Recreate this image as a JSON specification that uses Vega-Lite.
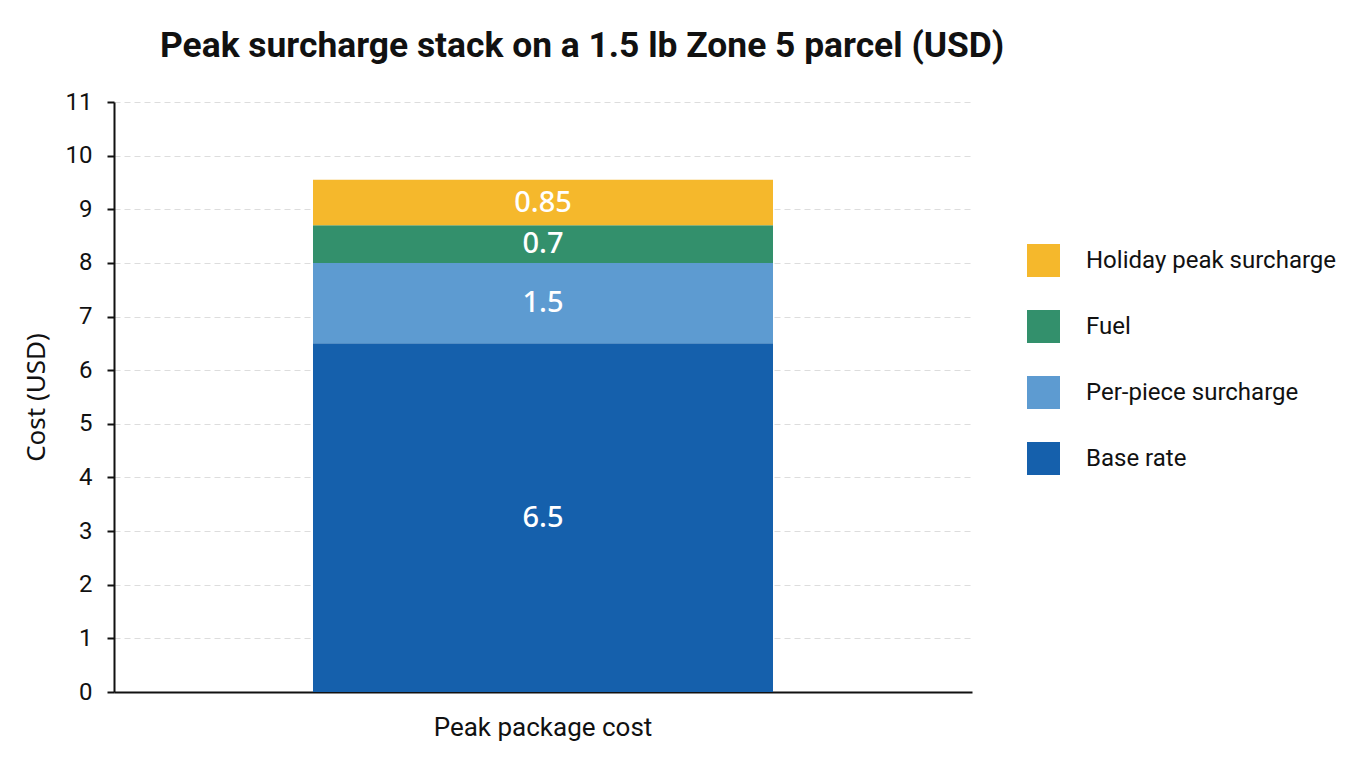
{
  "$schema": "https://vega.github.io/schema/vega-lite/v6.json",
  "width": 858,
  "height": 590,
  "autosize": {"type": "none"},
  "padding": {"left": 114, "top": 102, "right": 388, "bottom": 76},
  "background": "white",
  "title": {
    "text": "Peak surcharge stack on a 1.5 lb Zone 5 parcel (USD)",
    "anchor": "start",
    "frame": "group",
    "dx": 46,
    "offset": -2,
    "baseline": "alphabetic",
    "font": "Roboto",
    "fontSize": 35.4,
    "fontWeight": "bold",
    "color": "#111111"
  },
  "data": {
    "values": [
      {"item": "Peak package cost", "component": "Base rate", "cost": 6.5, "ord": 1},
      {"item": "Peak package cost", "component": "Per-piece surcharge", "cost": 1.5, "ord": 2},
      {"item": "Peak package cost", "component": "Fuel", "cost": 0.7, "ord": 3},
      {"item": "Peak package cost", "component": "Holiday peak surcharge", "cost": 0.85, "ord": 4}
    ]
  },
  "transform": [
    {"stack": "cost", "groupby": ["item"], "sort": [{"field": "ord", "order": "ascending"}], "as": ["y0", "y1"]},
    {"calculate": "(datum.y0 + datum.y1) / 2", "as": "mid"}
  ],
  "encoding": {
    "x": {
      "field": "item",
      "type": "nominal",
      "scale": {"paddingInner": 0, "paddingOuter": 0.4326},
      "axis": {
        "title": null,
        "labelAngle": 0,
        "ticks": false,
        "labelPadding": 22,
        "labelLimit": 500,
        "labelFont": "Roboto",
        "labelFontSize": 26,
        "labelColor": "#111111",
        "domainColor": "#111111",
        "domainWidth": 2,
        "grid": false
      }
    }
  },
  "layer": [
    {
      "mark": {"type": "bar"},
      "encoding": {
        "y": {
          "field": "y0",
          "type": "quantitative",
          "scale": {"domain": [0, 11], "nice": false},
          "axis": {
            "title": "Cost (USD)",
            "titleFont": "Noto Sans",
            "titleFontSize": 26,
            "titleFontWeight": "normal",
            "titleColor": "#111111",
            "titlePadding": 16,
            "values": [0,1,2,3,4,5,6,7,8,9,10,11],
            "labelFont": "Roboto",
            "labelFontSize": 24,
            "labelColor": "#111111",
            "labelPadding": 15,
            "tickColor": "#111111",
            "tickSize": 7,
            "tickWidth": 2,
            "domainColor": "#111111",
            "domainWidth": 2,
            "grid": true,
            "gridColor": "#dddddd",
            "gridDash": [6, 4],
            "gridWidth": 1
          }
        },
        "y2": {"field": "y1"},
        "color": {
          "field": "component",
          "type": "nominal",
          "scale": {
            "domain": ["Holiday peak surcharge", "Fuel", "Per-piece surcharge", "Base rate"],
            "range": ["#F5B82C", "#33906C", "#5D9BD1", "#1560AC"]
          },
          "legend": {
            "title": null,
            "orient": "none",
            "legendX": 913,
            "legendY": 142,
            "symbolType": "square",
            "symbolSize": 1089,
            "symbolStrokeWidth": 0,
            "symbolOpacity": 1,
            "labelFont": "Roboto",
            "labelFontSize": 24,
            "labelColor": "#111111",
            "labelOffset": 26,
            "rowPadding": 33,
            "labelLimit": 400
          }
        }
      }
    },
    {
      "mark": {"type": "text", "color": "white", "font": "Noto Sans", "fontSize": 29, "fontWeight": 500, "baseline": "middle", "align": "center"},
      "encoding": {
        "y": {"field": "mid", "type": "quantitative"},
        "text": {"field": "cost", "type": "quantitative"}
      }
    }
  ],
  "config": {
    "view": {"stroke": null}
  }
}
